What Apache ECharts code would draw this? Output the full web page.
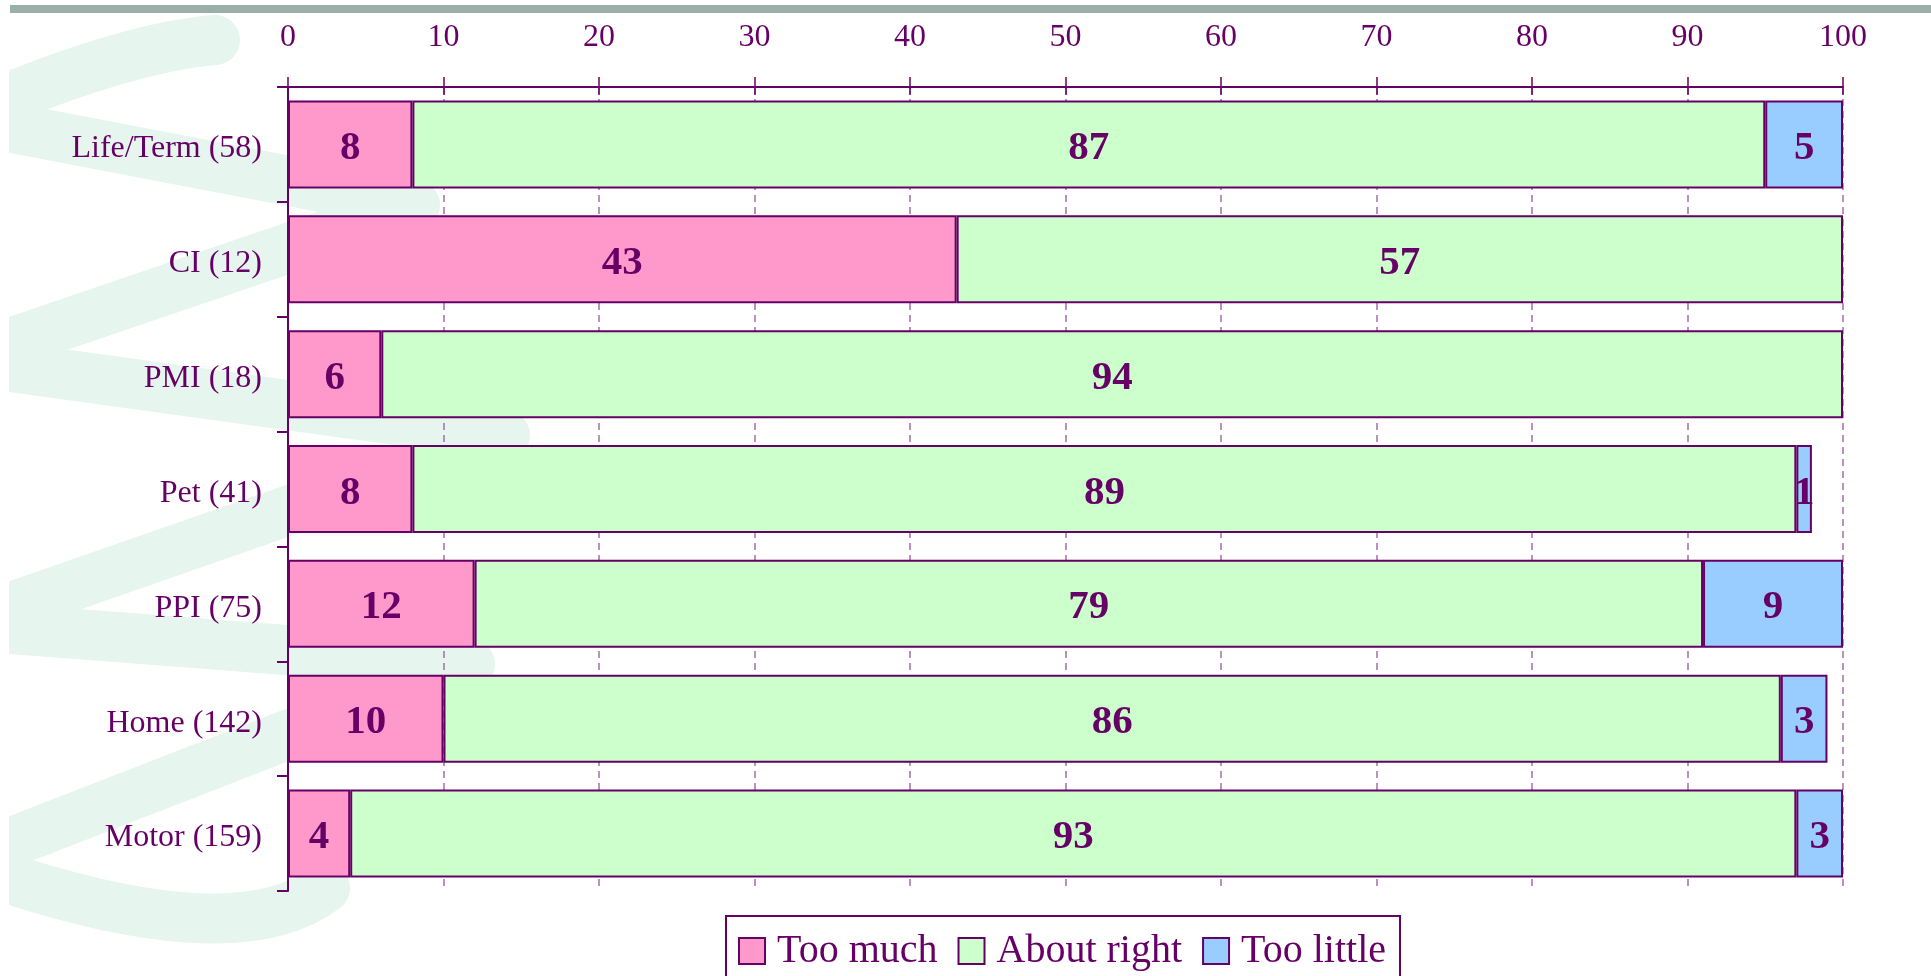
<!DOCTYPE html>
<html>
<head>
<meta charset="utf-8">
<title>Premium perception by product</title>
<script src="https://cdn.jsdelivr.net/npm/echarts@6/dist/echarts.min.js"></script>
<style>
  html, body { margin: 0; padding: 0; background: #ffffff; }
  #chart { width: 1931px; height: 976px; }
</style>
</head>
<body>
<div id="chart"></div>
<script>
// Products surveyed (respondent count in brackets), top to bottom
const categories = ['Life/Term (58)', 'CI (12)', 'PMI (18)', 'Pet (41)', 'PPI (75)', 'Home (142)', 'Motor (159)'];

// Share of respondents (%) per answer
const tooMuch    = [8, 43, 6, 8, 12, 10, 4];
const aboutRight = [87, 57, 94, 89, 79, 86, 93];
const tooLittle  = [5, null, null, 1, 9, 3, 3];

const seriesNames = ['Too much', 'About right', 'Too little'];
const seriesColors = ['#FF99CC', '#CCFFCC', '#99CCFF'];

// Percentage scale
const axisMin = 0;
const axisMax = 100;
const axisStep = 10;

const INK = '#660066';
const SERIF = '"Liberation Serif", "Times New Roman", serif';
const MINT = '#E6F5ED';

const chart = echarts.init(document.getElementById('chart'), null, { renderer: 'canvas' });

const valueLists = [tooMuch, aboutRight, tooLittle];

const series = seriesNames.map((name, i) => ({
  name: name,
  type: 'bar',
  stack: 'answers',
  barCategoryGap: '23.4%',
  xAxisIndex: 0,
  data: valueLists[i].map(v => (v === null ? '-' : v)),
  itemStyle: { color: seriesColors[i], borderColor: INK, borderWidth: 2 },
  label: {
    show: true,
    position: 'inside',
    offset: [0, 4],
    color: INK,
    fontFamily: SERIF,
    fontWeight: 'bold',
    fontSize: 41
  },
  emphasis: { disabled: true }
}));

// Decorative mint ribbon on the left side of the slide
const ribbonStyle = { fill: null, stroke: MINT, lineWidth: 50, lineJoin: 'round', lineCap: 'round' };
const ribbon = [
  {
    type: 'bezierCurve',
    z: -20, silent: true,
    shape: { x1: 215, y1: 40, cpx1: 120, cpy1: 48, x2: -40, y2: 118 },
    style: ribbonStyle
  },
  {
    type: 'polyline',
    z: -20, silent: true,
    shape: { points: [[-40, 118], [415, 205], [-40, 360], [505, 435], [-40, 625], [470, 664], [-40, 862]] },
    style: ribbonStyle
  },
  {
    type: 'bezierCurve',
    z: -20, silent: true,
    shape: { x1: -40, y1: 862, cpx1: 230, cpy1: 960, x2: 325, y2: 888 },
    style: ribbonStyle
  }
];

const option = {
  backgroundColor: '#ffffff',
  animation: false,
  graphic: ribbon.concat([
    {
      type: 'rect',
      z: -10, silent: true,
      shape: { x: 0, y: 0, width: 9, height: 976 },
      style: { fill: '#ffffff' }
    },
    {
      type: 'rect',
      z: -5, silent: true,
      shape: { x: 10, y: 5, width: 1921, height: 8 },
      style: { fill: '#9AAFA5' }
    }
  ]),
  grid: {
    left: 288,
    top: 87,
    width: 1555,
    height: 804,
    containLabel: false
  },
  legend: {
    data: seriesNames,
    left: 726,
    top: 916,
    orient: 'horizontal',
    itemWidth: 26,
    itemHeight: 26,
    itemGap: 20,
    icon: 'rect',
    padding: [15, 14, 40, 12],
    borderColor: INK,
    borderWidth: 2,
    backgroundColor: '#ffffff',
    textStyle: { color: INK, fontFamily: SERIF, fontSize: 40, padding: [0, 0, 0, 7] },
    selectedMode: false
  },
  xAxis: [
    {
      type: 'value',
      position: 'top',
      min: axisMin,
      max: axisMax,
      interval: axisStep,
      axisLine: { show: true, lineStyle: { color: INK, width: 2 } },
      axisTick: { show: true, length: 10, lineStyle: { color: INK, width: 1.5 } },
      axisLabel: { color: INK, fontFamily: SERIF, fontSize: 32, margin: 33 },
      splitLine: { show: true, lineStyle: { color: '#A070A8', width: 1.5, type: [7, 5] } }
    },
    {
      type: 'value',
      position: 'top',
      min: axisMin,
      max: axisMax,
      interval: axisStep,
      axisLine: { show: false },
      axisTick: { show: true, inside: true, length: 8, lineStyle: { color: INK, width: 1.5 } },
      axisLabel: { show: false },
      splitLine: { show: false }
    }
  ],
  yAxis: {
    type: 'category',
    data: categories,
    inverse: true,
    axisLine: { show: true, lineStyle: { color: INK, width: 2 } },
    axisTick: { show: true, length: 11, lineStyle: { color: INK, width: 2 } },
    axisLabel: {
      margin: 26,
      formatter: '{c|{value}}',
      rich: {
        c: { color: INK, fontFamily: SERIF, fontSize: 32, padding: [9, 0, 0, 0] }
      }
    },
    splitLine: { show: false }
  },
  series: series
};

chart.setOption(option);
</script>
</body>
</html>
